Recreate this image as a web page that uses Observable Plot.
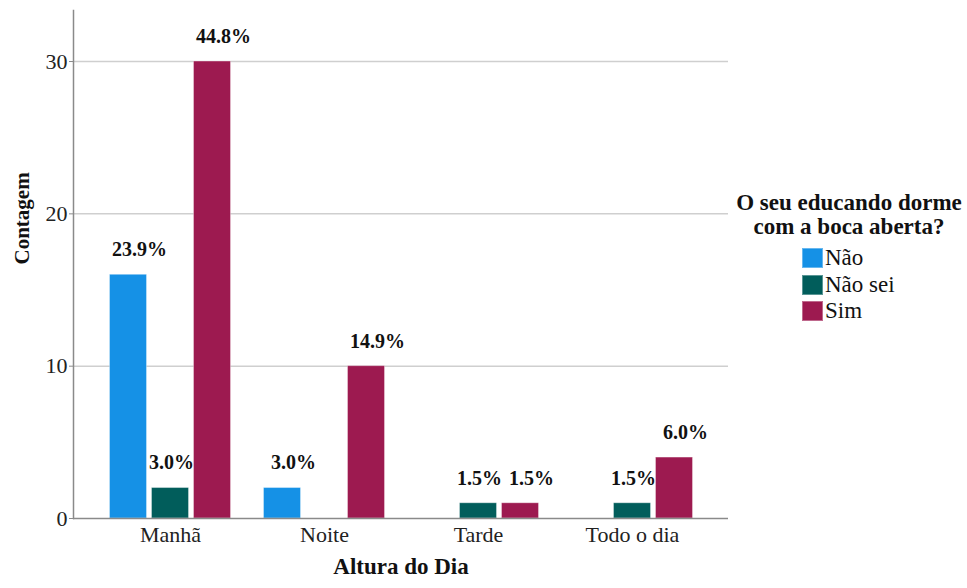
<!DOCTYPE html>
<html><head><meta charset="utf-8">
<script src="https://cdn.jsdelivr.net/npm/d3@7"></script>
<script src="https://cdn.jsdelivr.net/npm/@observablehq/plot@0.6"></script>
<style>
html,body{margin:0;padding:0;background:#fff;}
#wrap{position:relative;width:967px;height:588px;font-family:"Liberation Serif","Times New Roman","Nimbus Roman","DejaVu Serif",serif;color:#111;}
</style></head><body><div id="wrap"></div>
<script>
const categories = ["Manhã","Noite","Tarde","Todo o dia"];
const responses = ["Não","Não sei","Sim"];
const colors = ["#1591e6","#015d5b","#9d1a50"];
const countNao = [16, 2, 0, 0];
const countNaoSei = [2, 0, 1, 1];
const countSim = [30, 10, 1, 4];
const pctNao = [23.9, 3.0, 0, 0];
const pctNaoSei = [3.0, 0, 1.5, 1.5];
const pctSim = [44.8, 14.9, 1.5, 6.0];
const yTicks = [0, 10, 20, 30];
const legendTitle = ["O seu educando dorme", "com a boca aberta?"];
const xTitle = "Altura do Dia";
const yTitle = "Contagem";

const series = [countNao, countNaoSei, countSim];
const pcts = [pctNao, pctNaoSei, pctSim];

// layout of clustered bars inside each category band (styles, not data)
const band = 155, barW = 38, gap = 4;
const labelShift = [11, 1, 11];
const groupW = responses.length * barW + (responses.length - 1) * gap;
const lead = (band - groupW) / 2;

const font = '"Liberation Serif","Times New Roman","Nimbus Roman","DejaVu Serif",serif';
const marks = [
  Plot.gridY({ticks: yTicks.slice(1), stroke: "#cfcfcf", strokeOpacity: 1, strokeWidth: 1.5})
];
responses.forEach((r, i) => {
  const rows = categories.map((c, j) => ({cat: c, resp: r, count: series[i][j], pct: pcts[i][j]}))
    .filter(d => d.count > 0);
  const left = lead + i * (barW + gap);
  marks.push(Plot.barY(rows, {x: "cat", y: "count", fill: "resp",
    insetLeft: left, insetRight: band - left - barW,
    stroke: "#fff", strokeOpacity: 0.35, strokeWidth: 1}));
  marks.push(Plot.text(rows, {x: "cat", y: "count", text: d => d.pct.toFixed(1) + "%",
    dx: left + barW / 2 - band / 2 + labelShift[i], dy: -25, fontWeight: "bold", fontSize: 20, fill: "#111", fontFamily: font}));
});
marks.push(
  Plot.ruleY([0], {stroke: "#8a8a8a", strokeWidth: 1.5}),
  Plot.frame({anchor: "left", stroke: "#8a8a8a", strokeWidth: 1.5}),
  Plot.axisY({ticks: yTicks, tickSize: 4, tickPadding: 2, label: null, fontSize: 22, stroke: "#8a8a8a", fontFamily: font}),
  Plot.axisX({tickSize: 0, tickPadding: 8, label: null, fontSize: 22, fontFamily: font}),
  Plot.text([yTitle], {frameAnchor: "left", dx: -51, rotate: -90, fontWeight: "bold", fontSize: 21, fill: "#111", fontFamily: font}),
  Plot.text([xTitle], {frameAnchor: "bottom", dy: 55, fontWeight: "bold", fontSize: 23, fill: "#111", fontFamily: font})
);

const chart = Plot.plot({
  width: 967, height: 588,
  marginLeft: 73, marginRight: 239, marginTop: 10, marginBottom: 70,
  style: {fontFamily: font, fontSize: "22px", color: "#222", background: "#fff"},
  x: {domain: categories, paddingInner: 0, paddingOuter: 0.113, label: null},
  y: {domain: [0, 33.35], label: null},
  color: {domain: responses, range: colors},
  marks
});

const wrap = document.getElementById("wrap");
wrap.appendChild(chart);

const color = chart.scale("color");
const leg = document.createElement("div");
leg.style.cssText = "position:absolute;left:733px;top:191px;width:232px;text-align:center;font-weight:bold;font-size:23px;line-height:24px;";
legendTitle.forEach(t => { const d = document.createElement("div"); d.textContent = t; leg.appendChild(d); });
wrap.appendChild(leg);
responses.forEach((r, i) => {
  const row = document.createElement("div");
  row.style.cssText = `position:absolute;left:802px;top:${248 + i * 26.5}px;height:20px;display:flex;align-items:center;font-size:23px;line-height:20px;`;
  const sw = document.createElement("span");
  sw.style.cssText = `display:inline-block;width:21px;height:20px;background:${color.apply(r)};margin-right:2px;box-sizing:border-box;border:1px solid rgba(255,255,255,0.35);`;
  const tx = document.createElement("span");
  tx.textContent = r;
  row.appendChild(sw); row.appendChild(tx);
  wrap.appendChild(row);
});
</script></body></html>
